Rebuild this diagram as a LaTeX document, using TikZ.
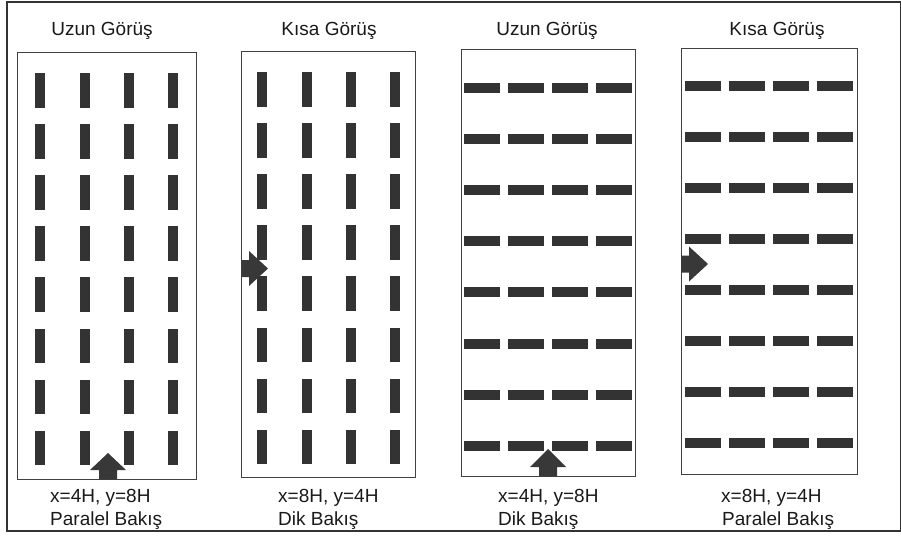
\documentclass[tikz,border=0pt]{standalone}
\usepackage{fontspec}
\setmainfont{Liberation Sans}
\begin{document}
\begin{tikzpicture}[x=1pt,y=-1pt,
  panel/.style={draw=black!75, line width=0.9pt},
  bar/.style={fill=black!80},
  blockarrow/.style={fill=black!78},
  lbl/.style={inner sep=0pt, font=\fontsize{19}{22}\selectfont, text=black!90}]
\useasboundingbox (0,0) rectangle (901,535);
% outer frame
\draw[black!80, line width=1.2pt] (7,2) rectangle (901,531);

% panel frames
\draw[panel] (17,52) rectangle (196,479);
\draw[panel] (241,51) rectangle (415,477.5);
\draw[panel] (461,49) rectangle (635,476);
\draw[panel] (681,48) rectangle (857,474);

% vertical bars (panels 1 and 2)
\foreach \k in {0,...,7}{
  \foreach \cx in {40,84.5,129,173}
    \fill[bar] (\cx-5,73+51.1*\k) rectangle (\cx+5,107.5+51.1*\k);
  \foreach \cx in {262,306.5,350.5,394.5}
    \fill[bar] (\cx-5,72+51.1*\k) rectangle (\cx+5,106.5+51.1*\k);
}
% horizontal bars (panels 3 and 4)
\foreach \k in {0,...,7}{
  \foreach \cx in {482,525.5,570,614}
    \fill[bar] (\cx-18,82.5+51.2*\k) rectangle (\cx+18,92.5+51.2*\k);
  \foreach \cx in {703,747,791,835}
    \fill[bar] (\cx-18,80.5+51.1*\k) rectangle (\cx+18,90.5+51.1*\k);
}

% viewing direction arrows
\fill[blockarrow] (99,479) -- (99,470) -- (90,470) -- (108,453) -- (126,470) -- (117,470) -- (117,479) -- cycle;
\fill[blockarrow] (539,476) -- (539,467) -- (530,467) -- (548,449) -- (566,467) -- (557,467) -- (557,476) -- cycle;
\fill[blockarrow] (241.5,260) -- (249,260) -- (249,251) -- (268,268.5) -- (249,286) -- (249,277) -- (241.5,277) -- cycle;
\fill[blockarrow] (681,255.5) -- (689,255.5) -- (689,246.5) -- (708,264) -- (689,281.5) -- (689,272.5) -- (681,272.5) -- cycle;

% titles
\node[lbl, anchor=base] (t1) at (102,36) {Uzun Görüş};
\node[lbl, anchor=base] (t2) at (329,36) {Kısa Görüş};
\node[lbl, anchor=base] (t3) at (547,36) {Uzun Görüş};
\node[lbl, anchor=base] (t4) at (777,36) {Kısa Görüş};

% captions
\node[lbl, anchor=base west] (c1a) at (50,502) {x=4H, y=8H};
\node[lbl, anchor=base west] (c1b) at (50,525) {Paralel Bakış};
\node[lbl, anchor=base west] (c2a) at (278,502) {x=8H, y=4H};
\node[lbl, anchor=base west] (c2b) at (278,525) {Dik Bakış};
\node[lbl, anchor=base west] (c3a) at (498,502) {x=4H, y=8H};
\node[lbl, anchor=base west] (c3b) at (498,525) {Dik Bakış};
\node[lbl, anchor=base west] (c4a) at (721,502) {x=8H, y=4H};
\node[lbl, anchor=base west] (c4b) at (722,525) {Paralel Bakış};
\end{tikzpicture}
\end{document}
